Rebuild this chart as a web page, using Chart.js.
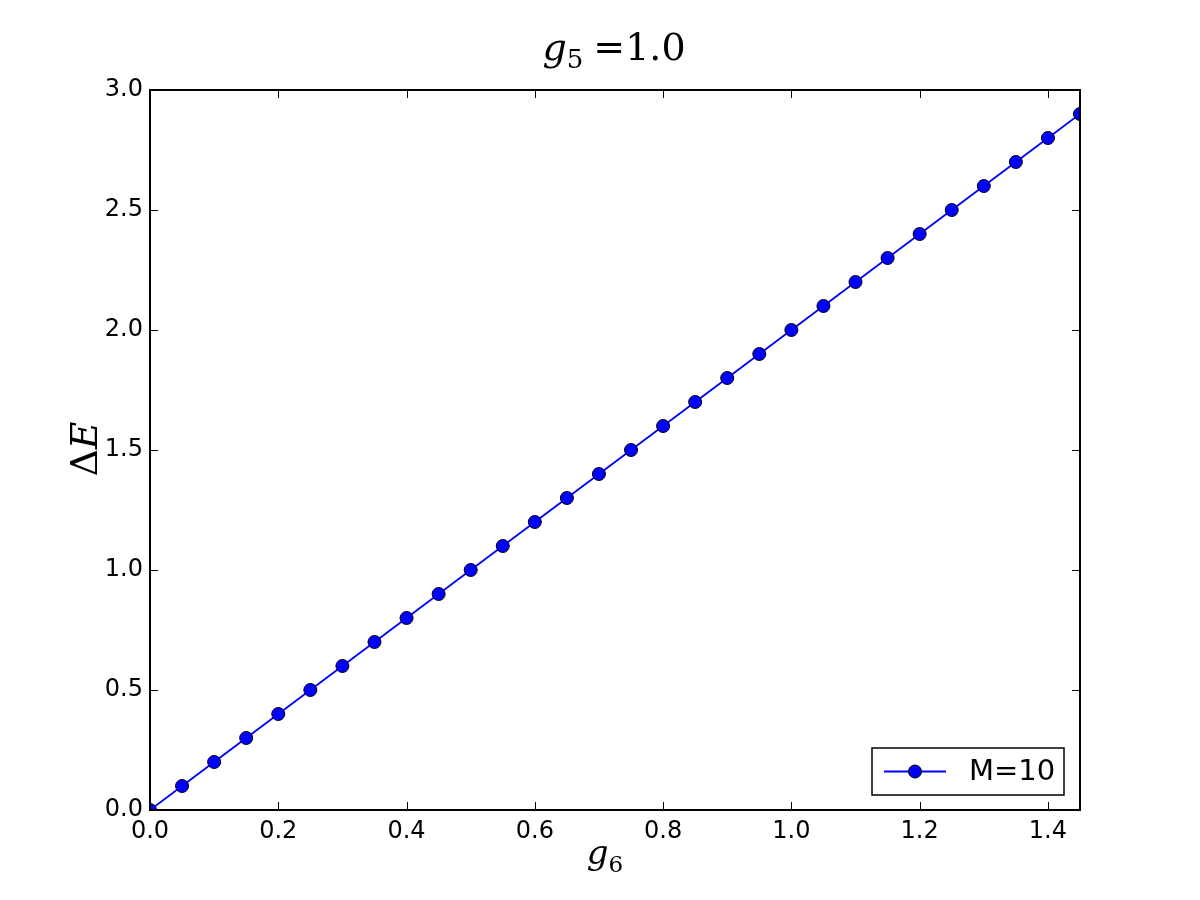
<!DOCTYPE html>
<html><head><meta charset="utf-8">
<script src="https://cdn.jsdelivr.net/npm/chart.js@4/dist/chart.umd.min.js"></script>
<style>html,body{margin:0;padding:0;background:#fff}#wrap{width:1200px;height:900px}</style>
</head><body><div id="wrap"><canvas id="c" width="1200" height="900"></canvas></div>
<script>
const g6Values = [0.0,0.05,0.1,0.15,0.2,0.25,0.3,0.35,0.4,0.45,0.5,0.55,0.6,0.65,0.7,0.75,0.8,0.85,0.9,0.95,1.0,1.05,1.1,1.15,1.2,1.25,1.3,1.35,1.4,1.45];
const deltaE = [0.0,0.1,0.2,0.3,0.4,0.5,0.6,0.7,0.8,0.9,1.0,1.1,1.2,1.3,1.4,1.5,1.6,1.7,1.8,1.9,2.0,2.1,2.2,2.3,2.4,2.5,2.6,2.7,2.8,2.9];
const seriesLabel = 'M=10';
const xTicks = [0.0,0.2,0.4,0.6,0.8,1.0,1.2,1.4];
const yTicks = [0.0,0.5,1.0,1.5,2.0,2.5,3.0];

const points = g6Values.map((x,i)=>({x:x,y:deltaE[i]}));

function mathText(ctx, parts, x, y, align){
  let w = 0;
  parts.forEach(p=>{ctx.font=p.font; w += ctx.measureText(p.t).width + (p.gap||0);});
  let cx = align==='center' ? x - w/2 : x;
  ctx.textBaseline='alphabetic'; ctx.textAlign='left';
  parts.forEach(p=>{ctx.font=p.font; ctx.fillText(p.t, cx, y + (p.dy||0)); cx += ctx.measureText(p.t).width + (p.gap||0);});
}

const deco = {
  id:'deco',
  afterDraw(chart){
    const ctx = chart.ctx, a = chart.chartArea, xs = chart.scales.x, ys = chart.scales.y;
    ctx.save();
    ctx.strokeStyle='#000'; ctx.lineWidth=1;
    xTicks.forEach(v=>{const px=Math.round(xs.getPixelForValue(v))+0.5;
      ctx.beginPath(); ctx.moveTo(px,a.bottom); ctx.lineTo(px,a.bottom-8); ctx.moveTo(px,a.top); ctx.lineTo(px,a.top+8); ctx.stroke();});
    yTicks.forEach(v=>{const py=Math.round(ys.getPixelForValue(v))+0.5;
      ctx.beginPath(); ctx.moveTo(a.left,py); ctx.lineTo(a.left+8,py); ctx.moveTo(a.right,py); ctx.lineTo(a.right-8,py); ctx.stroke();});
    ctx.lineWidth=2;
    ctx.strokeRect(a.left, a.top, a.right-a.left, a.bottom-a.top);
    // legend
    const lx=872, ly=748, lw=192, lh=47;
    ctx.fillStyle='#fff'; ctx.fillRect(lx,ly,lw,lh);
    ctx.lineWidth=1.5; ctx.strokeStyle='#000'; ctx.strokeRect(lx,ly,lw,lh);
    const my = ly+lh/2;
    ctx.strokeStyle='#0000ff'; ctx.lineWidth=1.8;
    ctx.beginPath(); ctx.moveTo(884,my); ctx.lineTo(946,my); ctx.stroke();
    ctx.beginPath(); ctx.arc(915,my,6.5,0,Math.PI*2); ctx.fillStyle='#0000ff'; ctx.fill();
    ctx.strokeStyle='#000'; ctx.lineWidth=1; ctx.stroke();
    ctx.fillStyle='#000'; ctx.font='29px "DejaVu Sans"'; ctx.textBaseline='middle'; ctx.textAlign='left';
    ctx.fillText(seriesLabel, 969, my+1);
    // title
    ctx.fillStyle='#000';
    mathText(ctx,[
      {t:'g', font:'italic 38px "DejaVu Serif"'},
      {t:'5', font:'26px "DejaVu Serif"', dy:8, gap:10},
      {t:'=1.0', font:'38px "DejaVu Serif"'}
    ], 614, 60, 'center');
    // x title
    mathText(ctx,[
      {t:'g', font:'italic 34px "DejaVu Serif"'},
      {t:'6', font:'23px "DejaVu Serif"', dy:8}
    ], 605, 864, 'center');
    // y title
    ctx.save(); ctx.translate(97,449); ctx.rotate(-Math.PI/2);
    mathText(ctx,[
      {t:'\u0394', font:'38px "DejaVu Serif"'},
      {t:'E', font:'italic 38px "DejaVu Serif"'}
    ], 0, 0, 'center');
    ctx.restore();
    ctx.restore();
  }
};

new Chart(document.getElementById('c'), {
  type:'scatter',
  data:{datasets:[{
    label:seriesLabel, data:points, showLine:true,
    borderColor:'#0000ff', borderWidth:1.8, backgroundColor:'#0000ff',
    pointRadius:6.5, pointBorderColor:'#000', pointBorderWidth:1, pointBackgroundColor:'#0000ff',
    clip:0
  }]},
  options:{
    responsive:false, animation:false, devicePixelRatio:1,
    layout:{padding:{top:90,right:120,left:0,bottom:0}},
    plugins:{legend:{display:false}, tooltip:{enabled:false}},
    scales:{
      x:{type:'linear', min:0, max:1.45,
        afterBuildTicks(s){s.ticks = xTicks.map(v=>({value:v}));},
        afterFit(s){s.height=90;},
        grid:{display:false, drawTicks:false}, border:{display:false},
        ticks:{color:'#000', font:{family:'DejaVu Sans', size:24}, padding:7, maxRotation:0,
          callback:(v)=>Number(v).toFixed(1)}},
      y:{type:'linear', min:0, max:3.0,
        afterBuildTicks(s){s.ticks = yTicks.map(v=>({value:v}));},
        afterFit(s){s.width=150;},
        grid:{display:false, drawTicks:false}, border:{display:false},
        ticks:{color:'#000', font:{family:'DejaVu Sans', size:24}, padding:7,
          callback:(v)=>Number(v).toFixed(1)}}
    }
  },
  plugins:[deco]
});
</script></body></html>
